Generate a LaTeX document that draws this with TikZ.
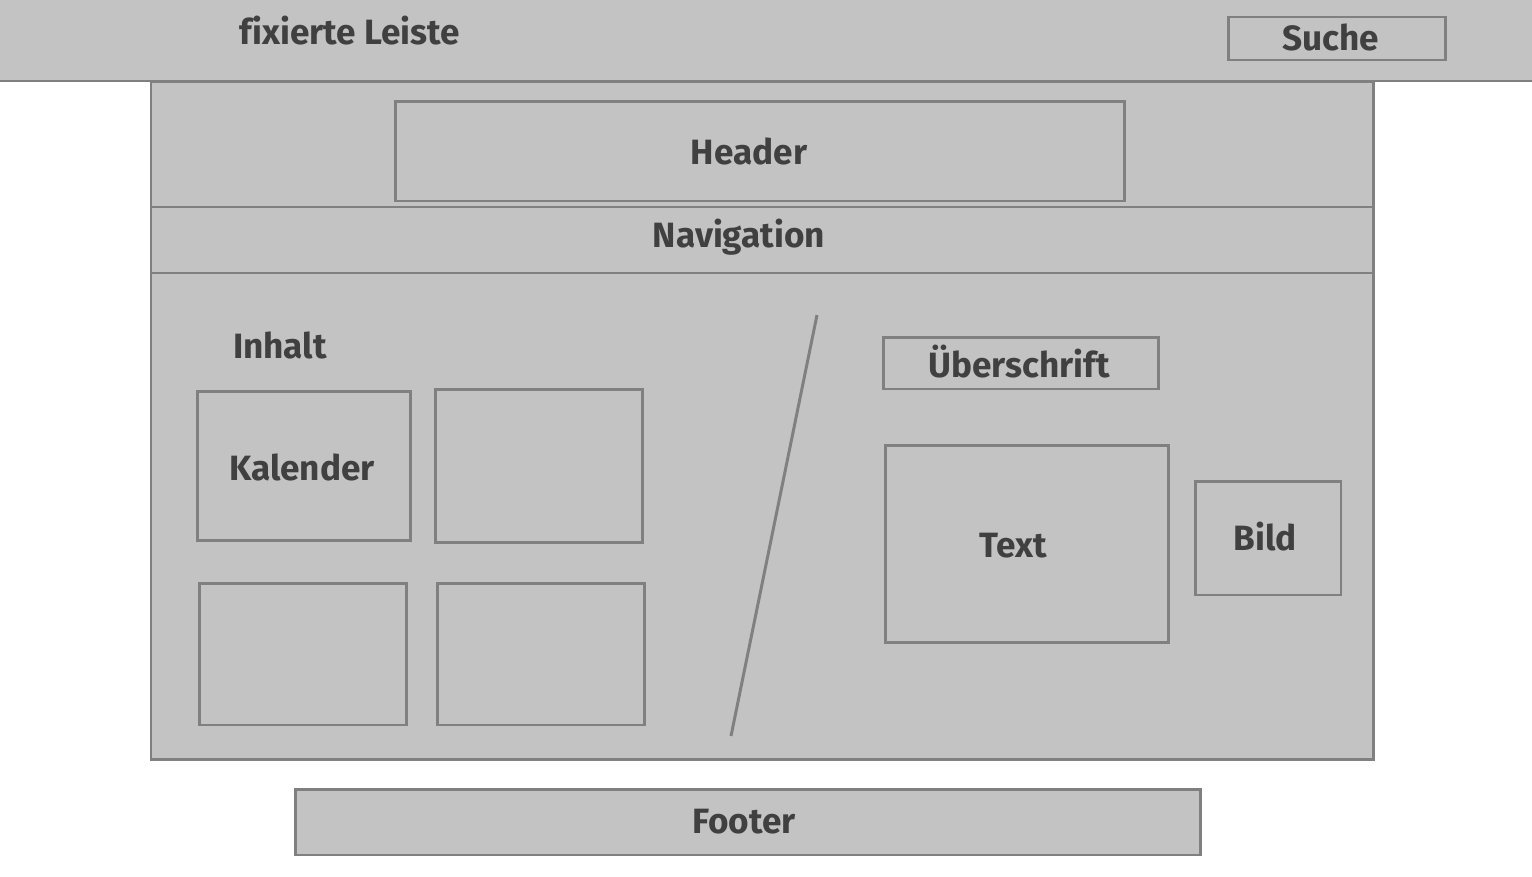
\documentclass[tikz,border=0pt]{standalone}
\usepackage{fontspec}
\setmainfont{Fira Sans}[Ligatures=NoCommon]
\usepackage{xcolor}
\usetikzlibrary{positioning}
\definecolor{wfill}{HTML}{C3C3C3}
\definecolor{wline}{HTML}{808080}
\definecolor{wtext}{HTML}{404040}

\begin{document}
\begin{tikzpicture}[
  x=0.02cm, y=-0.02cm,
  every node/.style={font=\fontsize{20}{23}\selectfont\bfseries, text=wtext},
  frame/.style={draw=wline, line width=1.7pt, fill=wfill},
  box/.style={frame, inner sep=0pt}
]
\useasboundingbox (0,0) rectangle (1532,876);

% Fixed bar at the top
\fill[wfill] (-5,-5) rectangle (1537,81);
\draw[wline, line width=1.7pt] (-5,81) -- (1537,81);
\node (bartitle) at (350,31) {fixierte Leiste};
\node[box, minimum width=4.36cm, minimum height=0.86cm] (search) at (1337,38.5) {};
\node (searchtext) at (1331,37) {Suche};

% Page container
\draw[frame] (151,82) rectangle (1373,759);
\node[box, minimum width=14.6cm, minimum height=2cm] (header) at (760,151) {};
\node (headertext) at (749,151) {Header};
\draw[wline, line width=1.7pt] (151,207) -- (1373,207);
\draw[wline, line width=1.7pt] (151,273) -- (1373,273);
\node (nav) at (739,237) {Navigation};

% Left column: content tiles
\node (content) at (280,345) {Inhalt};
\node[box, minimum width=4.28cm, minimum height=3cm] (calendar) at (304,466) {};
\node (calendartext) at (302,467) {Kalender};
\node[box, minimum width=4.16cm, minimum height=3.08cm] (tileb) at (539,466) {};
\node[box, minimum width=4.16cm, minimum height=2.84cm] (tilec) at (303,654) {};
\node[box, minimum width=4.16cm, minimum height=2.84cm] (tiled) at (541,654) {};

% Divider
\coordinate (divtop) at (817,315);
\coordinate (divbot) at (731,736);
\draw[wline, line width=1.7pt] (divtop) -- (divbot);

% Right column: article
\node[box, minimum width=5.52cm, minimum height=1.04cm] (headline) at (1021,363) {};
\node (headlinetext) at (1019,362) {Überschrift};
\node[box, minimum width=5.68cm, minimum height=3.96cm] (textbox) at (1027,544) {};
\node (textlabel) at (1013,546) {Text};
\node[box, minimum width=2.92cm, minimum height=2.28cm] (image) at (1268,538) {};
\node (imagetext) at (1265,537) {Bild};

% Footer
\node[box, minimum width=18.12cm, minimum height=1.32cm] (footer) at (748,822) {};
\node (footertext) at (744,822) {Footer};

\end{tikzpicture}
\end{document}
